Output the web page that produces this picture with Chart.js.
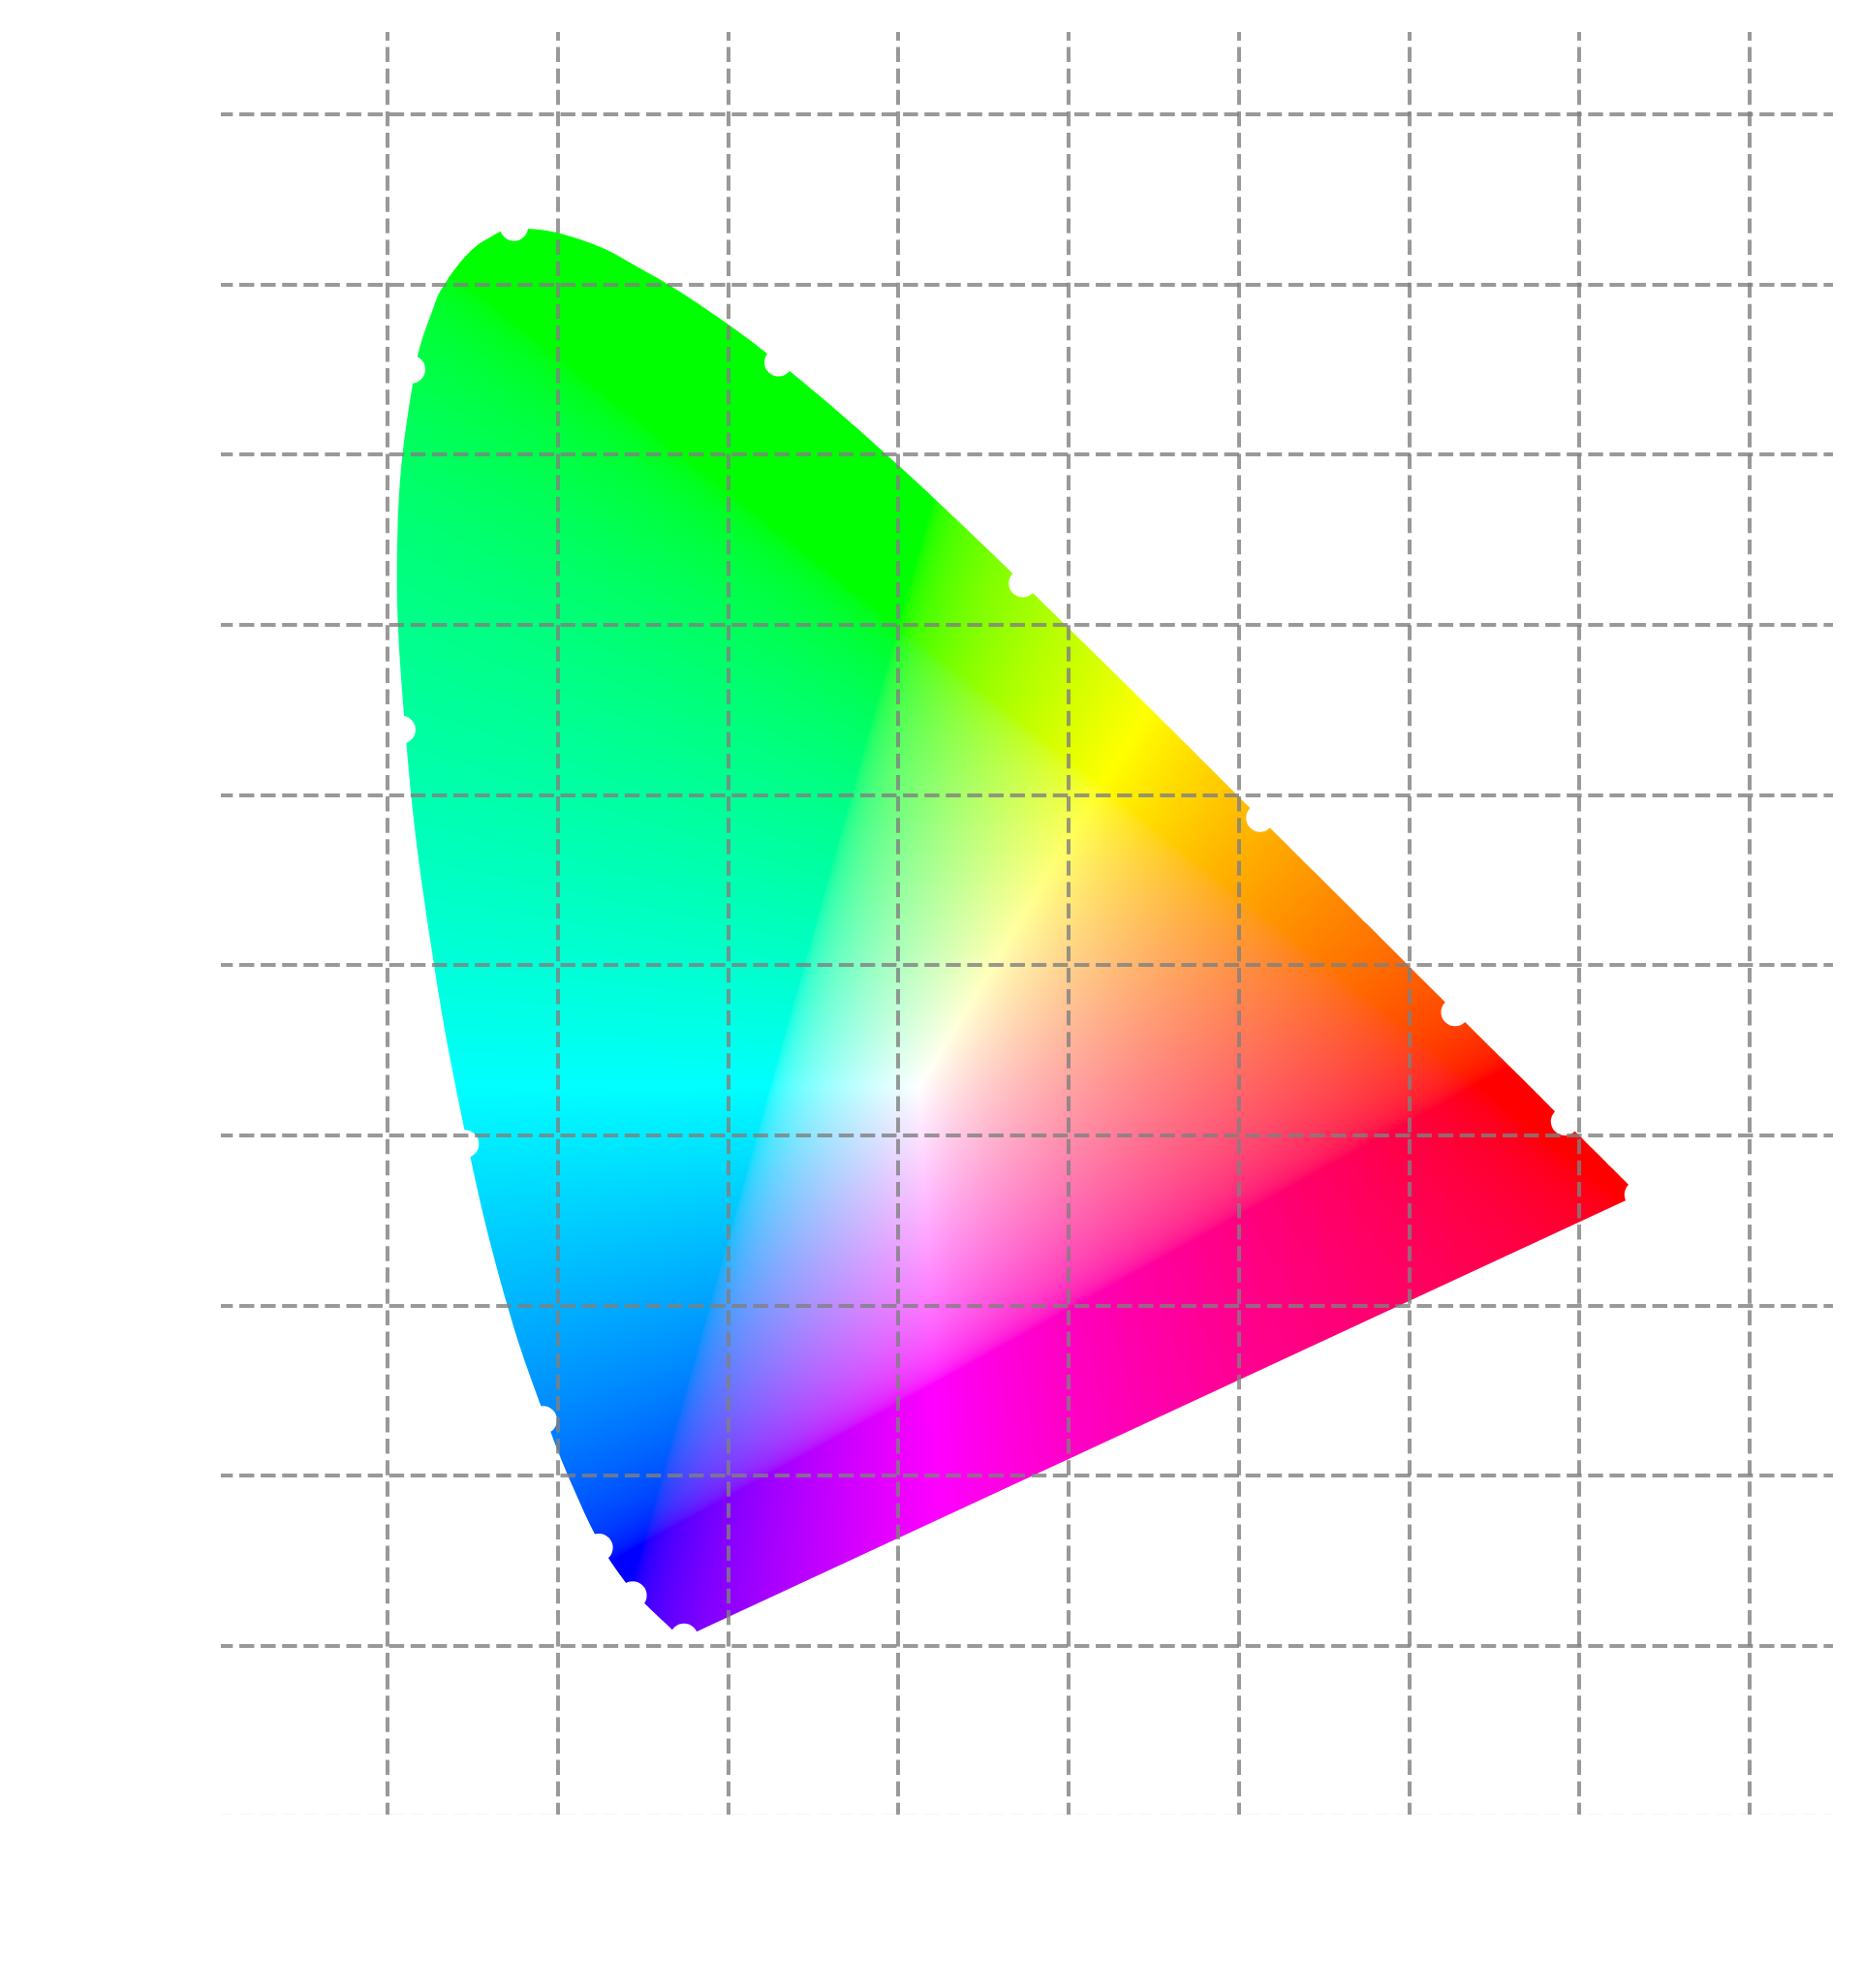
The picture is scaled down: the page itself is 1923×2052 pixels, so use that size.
<!DOCTYPE html>
<html>
<head>
<meta charset="utf-8">
<title>CIE 1931 Chromaticity Diagram</title>
<style>
  html, body { margin: 0; padding: 0; background: #ffffff; }
  canvas { display: block; }
</style>
<script src="https://cdn.jsdelivr.net/npm/chart.js@4"></script>
</head>
<body>
<canvas id="chart" width="1923" height="2052"></canvas>
<script>
const locusX = [0.1741, 0.1740, 0.1738, 0.1736, 0.1733, 0.1730, 0.1726, 0.1721, 0.1714, 0.1703, 0.1689, 0.1680, 0.1658, 0.1628, 0.1586, 0.1533,
    0.1465, 0.1380, 0.1261, 0.1118, 0.0932, 0.0702, 0.0470, 0.0254, 0.0104, 0.0059, 0.0162, 0.0285, 0.0341, 0.0408, 0.0474, 0.0569, 0.0743, 0.1142, 0.1547, 0.1929, 0.2296, 0.2658, 0.3016,
    0.3373, 0.3731, 0.4087, 0.4441, 0.4788, 0.5125, 0.5448, 0.5752, 0.6029, 0.6270, 0.6482, 0.6658, 0.6801, 0.6915, 0.7006, 0.7079, 0.7140, 0.7190, 0.7230,
    0.7260, 0.7283, 0.7300, 0.7311, 0.7320, 0.7327, 0.7334, 0.7340, 0.7344, 0.7346, 0.7347];
const locusY = [0.0050, 0.0050, 0.0049, 0.0049, 0.0048, 0.0048, 0.0048, 0.0048, 0.0051, 0.0058, 0.0069, 0.0086, 0.0109, 0.0138, 0.0177, 0.0227,
    0.0297, 0.0399, 0.0578, 0.0868, 0.1327, 0.2007, 0.2950, 0.4127, 0.5384, 0.6548, 0.7502, 0.7907, 0.8011, 0.8106, 0.8182, 0.8258, 0.8330, 0.8262, 0.8059, 0.7816, 0.7543, 0.7243, 0.6923,
    0.6589, 0.6245, 0.5896, 0.5547, 0.5202, 0.4866, 0.4544, 0.4242, 0.3965, 0.3725, 0.3514, 0.3340, 0.3197, 0.3083, 0.2993, 0.2920, 0.2859, 0.2809, 0.2770,
    0.2740, 0.2717, 0.2700, 0.2689, 0.2680, 0.2673, 0.2666, 0.2660, 0.2656, 0.2654, 0.2653];
// 380, 460, 470, 480, 490, 500, 510, 520, 540, 560, 580, 600, 620, 700 nm
const markerX = [0.1741, 0.1440, 0.1241, 0.0913, 0.0454, 0.0082, 0.0139, 0.0743, 0.2296, 0.3731, 0.5125, 0.6270, 0.6915, 0.7347];
const markerY = [0.0050, 0.0297, 0.0578, 0.1327, 0.2950, 0.5384, 0.7502, 0.8338, 0.7543, 0.6245, 0.4866, 0.3725, 0.3083, 0.2653];
const xTicks = [0, 0.1, 0.2, 0.3, 0.4, 0.5, 0.6, 0.7, 0.8];
const yTicks = [-0.0989, 0, 0.1, 0.2, 0.3, 0.4, 0.5, 0.6, 0.7, 0.8, 0.9];
const xRange = [-0.09787, 0.84893];
const yRange = [-0.0989, 0.9484];

const locusPoints = locusX.map((x, i) => ({ x, y: locusY[i] }));
const markerPoints = markerX.map((x, i) => ({ x, y: markerY[i] }));

const gridColor = 'rgba(128, 128, 128, 0.8)';
const dash = [15.43, 6.67];

function encode(c) {
    return c <= 0.0031308 ? 12.92 * c : 1.055 * Math.pow(c, 1 / 2.4) - 0.055;
}

// xy chromaticity to display sRGB, normalised to the largest channel
function xyToRgb(x, y) {
    const X = x / y;
    const Z = (1 - x - y) / y;
    const r = 3.2406 * X - 1.5372 - 0.4986 * Z;
    const g = -0.9689 * X + 1.8758 + 0.0415 * Z;
    const b = 0.0557 * X - 0.2040 + 1.0570 * Z;
    const m = Math.max(r, g, b);
    return [r, g, b].map(c => Math.round(255 * encode(Math.max(c / m, 0))));
}

let chromaPattern = null;

function getChromaPattern(chart) {
    if (chromaPattern) return chromaPattern;
    const off = document.createElement('canvas');
    off.width = chart.width;
    off.height = chart.height;
    const ctx = off.getContext('2d');
    const area = chart.chartArea;
    const left = Math.floor(area.left);
    const top = Math.floor(area.top);
    const w = Math.ceil(area.right) - left;
    const h = Math.ceil(area.bottom) - top;
    const img = ctx.createImageData(w, h);
    for (let j = 0; j < h; j++) {
        const y = chart.scales.y.getValueForPixel(top + j + 0.5);
        for (let i = 0; i < w; i++) {
            const x = chart.scales.x.getValueForPixel(left + i + 0.5);
            if (y <= 0) continue;
            const rgb = xyToRgb(x, y);
            const p = (j * w + i) * 4;
            img.data[p] = rgb[0];
            img.data[p + 1] = rgb[1];
            img.data[p + 2] = rgb[2];
            img.data[p + 3] = 255;
        }
    }
    ctx.putImageData(img, left, top);
    chromaPattern = chart.ctx.createPattern(off, 'no-repeat');
    return chromaPattern;
}

// the bottom tick only leaves a faint sliver at the edge of the plot
const isEdge = v => v === yRange[0];

new Chart(document.getElementById('chart').getContext('2d'), {
    type: 'line',
    data: {
        datasets: [
            {
                label: 'Wavelength markers',
                data: markerPoints,
                order: 0,
                showLine: false,
                pointRadius: 14.5,
                pointBorderWidth: 0,
                pointBackgroundColor: '#ffffff'
            },
            {
                label: 'Spectral locus',
                data: locusPoints,
                order: 1,
                borderWidth: 0,
                pointRadius: 0,
                // any tension keeps Chart.js off its fast path, which flattens the steep left side
                tension: 0.4,
                fill: 'shape',
                backgroundColor: c => (c.chart.chartArea ? getChromaPattern(c.chart) : 'transparent')
            }
        ]
    },
    options: {
        responsive: false,
        animation: false,
        devicePixelRatio: 1,
        layout: { padding: { left: 228, top: 33, right: 31, bottom: 179.3 } },
        plugins: { legend: { display: false }, tooltip: { enabled: false } },
        scales: {
            x: {
                type: 'linear',
                min: xRange[0],
                max: xRange[1],
                afterBuildTicks: s => { s.ticks = xTicks.map(value => ({ value })); },
                ticks: { display: false },
                border: { display: false, dash: dash, dashOffset: 6.5 },
                grid: { z: 1, color: gridColor, lineWidth: 4, drawTicks: false }
            },
            y: {
                type: 'linear',
                min: yRange[0],
                max: yRange[1],
                afterBuildTicks: s => { s.ticks = yTicks.map(value => ({ value })); },
                ticks: { display: false },
                border: { display: false, dash: dash, dashOffset: 3.1 },
                grid: {
                    z: 1,
                    drawTicks: false,
                    color: c => (c.tick && isEdge(c.tick.value) ? 'rgba(128, 128, 128, 0.07)' : gridColor),
                    lineWidth: c => (c.tick && isEdge(c.tick.value) ? 1 : 4)
                }
            }
        }
    }
});
</script>
</body>
</html>
